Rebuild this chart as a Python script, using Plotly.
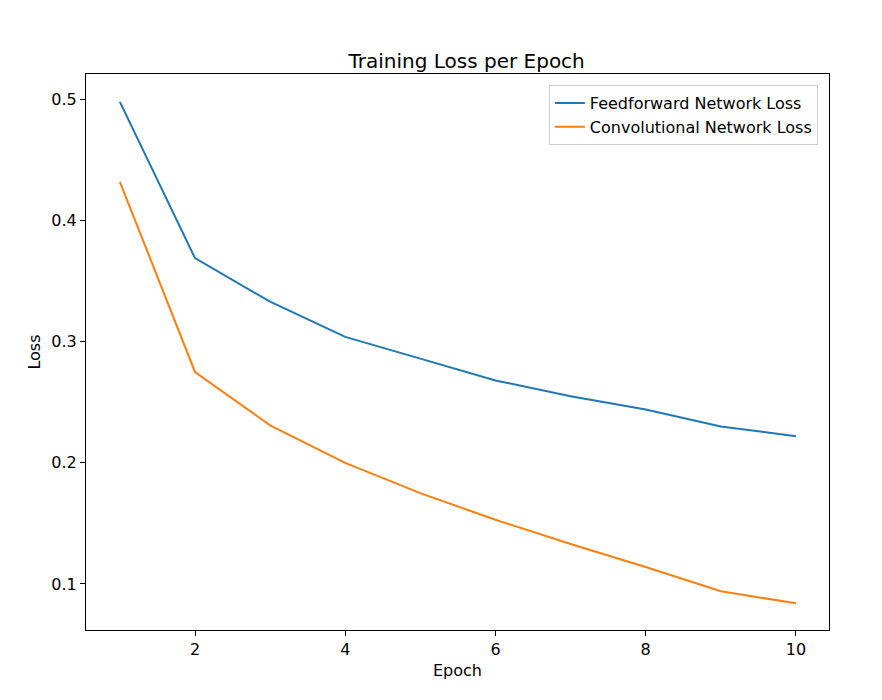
import plotly.graph_objects as go

epochs = [1, 2, 3, 4, 5, 6, 7, 8, 9, 10]
ff_loss = [0.498, 0.369, 0.333, 0.304, 0.286, 0.268, 0.255, 0.244, 0.230, 0.222]
cnn_loss = [0.432, 0.275, 0.231, 0.200, 0.175, 0.153, 0.133, 0.114, 0.094, 0.084]

fig = go.Figure()
fig.add_trace(go.Scatter(x=epochs, y=ff_loss, mode="lines", name="Feedforward Network Loss",
                         line=dict(color="#1f77b4", width=2)))
fig.add_trace(go.Scatter(x=epochs, y=cnn_loss, mode="lines", name="Convolutional Network Loss",
                         line=dict(color="#ff7f0e", width=2)))

axis = dict(showgrid=False, zeroline=False, showline=True, linecolor="black", mirror=True,
            ticks="outside", ticklen=5, tickcolor="black", tickfont=dict(size=16, color="black"))
fig.update_xaxes(**axis, range=[0.549, 10.44], tickvals=[2, 4, 6, 8, 10],
                 title=dict(text="Epoch", font=dict(size=16, color="black"), standoff=6))
fig.update_yaxes(**axis, range=[0.062, 0.521], tickvals=[0.1, 0.2, 0.3, 0.4, 0.5],
                 tickformat=".1f",
                 title=dict(text="Loss", font=dict(size=16, color="black"), standoff=6))

fig.update_layout(
    width=882, height=700,
    font_family="DejaVu Sans",
    plot_bgcolor="white", paper_bgcolor="white",
    margin=dict(l=78, r=61, t=66, b=78),
    title=dict(text="Training Loss per Epoch", x=0.52, xanchor="center", y=0.935,
               font=dict(size=20, color="black")),
    legend=dict(x=0.985, y=0.98, xanchor="right", yanchor="top", bgcolor="white",
                bordercolor="#cccccc", borderwidth=1, font=dict(size=16, color="black")),
)

fig.write_html("out.html")
